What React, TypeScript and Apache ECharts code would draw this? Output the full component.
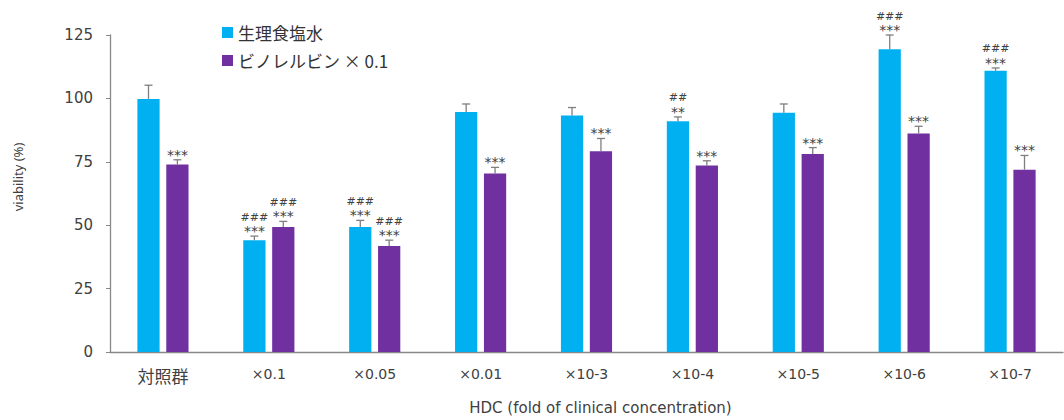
import React, { useEffect, useRef } from "react";
import * as echarts from "echarts";

const categories = ["対照群", "×0.1", "×0.05", "×0.01", "×10-3", "×10-4", "×10-5", "×10-6", "×10-7"];
const salineMean = [99.8, 44.1, 49.3, 94.6, 93.3, 91.0, 94.3, 119.4, 110.9];
const salineErr = [5.4, 1.6, 2.6, 3.2, 3.1, 1.7, 3.5, 5.6, 1.1];
const vinoMean = [73.9, 49.3, 41.8, 70.4, 79.2, 73.5, 78.1, 86.2, 71.9];
const vinoErr = [1.9, 2.2, 2.3, 2.4, 5.0, 1.9, 2.5, 2.8, 5.6];
const salineStars = ["", "***", "***", "", "", "**", "", "***", "***"];
const salineHash = ["", "###", "###", "", "", "##", "", "###", "###"];
const vinoStars = ["***", "***", "***", "***", "***", "***", "***", "***", "***"];
const vinoHash = ["", "###", "###", "", "", "", "", "", ""];
const yTicks = [0, 25, 50, 75, 100, 125];

const seriesNames = ["生理食塩水", "ビノレルビン × 0.1"];
const yName = "viability (%)";
const xName = "HDC (fold of clinical concentration)";
const FONT = "'DejaVu Sans', 'Noto Sans CJK JP', sans-serif";
const CJK = "'Noto Sans CJK JP', 'DejaVu Sans', sans-serif";

function errSeries(means: number[], errs: number[], stars: string[], hashes: string[], side: number) {
  return {
    type: "custom",
    z: 5,
    silent: true,
    encode: { x: 0, y: 2 },
    data: means.map((m, i) => [i, m, m + errs[i]]),
    renderItem: (params: any, api: any) => {
      const i = api.value(0);
      const base = api.coord([i, api.value(1)]);
      const top = api.coord([i, api.value(2)]);
      const band = api.size([1, 0])[0];
      const barW = band * 0.21;
      const x = base[0] + side * barW * 0.65;
      const s = stars[params.dataIndex];
      const h = hashes[params.dataIndex];
      const children: any[] = [
        { type: "line", shape: { x1: x, y1: base[1], x2: x, y2: top[1] }, style: { stroke: "#7f7f7f", lineWidth: 1.3 } },
        { type: "line", shape: { x1: x - 4, y1: top[1], x2: x + 4, y2: top[1] }, style: { stroke: "#7f7f7f", lineWidth: 1.3 } },
      ];
      if (s) {
        children.push({
          type: "text",
          style: { text: s, x, y: top[1] - 5, align: "center", verticalAlign: "middle", fill: "#404040", font: `14px 'DejaVu Sans', sans-serif` },
        });
      }
      if (h) {
        children.push({
          type: "text",
          style: { text: h, x, y: top[1] - 19, align: "center", verticalAlign: "middle", fill: "#404040", font: `11px 'DejaVu Sans', sans-serif` },
        });
      }
      return { type: "group", children };
    },
  };
}

export default function App() {
  const ref = useRef<HTMLDivElement>(null);
  useEffect(() => {
    document.body.style.margin = "0";
    document.body.style.overflow = "hidden";
    document.documentElement.style.overflow = "hidden";
    const chart = echarts.init(ref.current!, null, { renderer: "svg" });
    chart.setOption({
      animation: false,
      backgroundColor: "#ffffff",
      textStyle: { fontFamily: FONT },
      legend: {
        data: seriesNames,
        orient: "vertical",
        left: 217,
        top: 19,
        itemWidth: 11,
        itemHeight: 11,
        itemGap: 11,
        icon: "rect",
        textStyle: { fontSize: 17, color: "#333333", fontFamily: CJK },
      },
      graphic: [
        {
          type: "text",
          x: 18,
          y: 177,
          rotation: Math.PI / 2,
          style: { text: yName, align: "center", verticalAlign: "middle", fill: "#404040", font: `13px 'Noto Sans', sans-serif` },
        },
      ],
      grid: { left: 110, right: 1, top: 35, bottom: 63, containLabel: false },
      xAxis: {
        type: "category",
        data: categories,
        name: xName,
        nameLocation: "middle",
        nameGap: 48,
        nameTextStyle: { fontSize: 15, color: "#404040", padding: [0, 0, 0, 28] },
        axisLine: { lineStyle: { color: "#888888", width: 1.3 } },
        axisTick: { show: false },
        axisLabel: {
          interval: 0,
          fontSize: 14,
          color: "#404040",
          margin: 15,
          formatter: (v: string) => (/[\u3000-\u9fff]/.test(v) ? `{cjk|${v}}` : v),
          rich: { cjk: { fontSize: 17, fontFamily: CJK, color: "#404040" } },
        },
      },
      yAxis: {
        type: "value",
        min: yTicks[0],
        max: yTicks[yTicks.length - 1],
        interval: 25,
        axisLine: { show: true, lineStyle: { color: "#888888", width: 1.3 } },
        axisTick: { show: true, length: 4, lineStyle: { color: "#888888" } },
        splitLine: { show: false },
        axisLabel: { fontSize: 15, color: "#404040", margin: 17 },
      },
      series: [
        {
          name: seriesNames[0],
          type: "bar",
          data: salineMean,
          barWidth: "21%",
          barGap: "30%",
          itemStyle: { color: "#00B0F0" },
        },
        {
          name: seriesNames[1],
          type: "bar",
          data: vinoMean,
          barWidth: "21%",
          barGap: "30%",
          itemStyle: { color: "#7030A0" },
        },
        errSeries(salineMean, salineErr, salineStars, salineHash, -1),
        errSeries(vinoMean, vinoErr, vinoStars, vinoHash, 1),
      ],
    });
    return () => chart.dispose();
  }, []);
  return <div ref={ref} style={{ width: 1064, height: 420, overflow: "hidden" }} />;
}
